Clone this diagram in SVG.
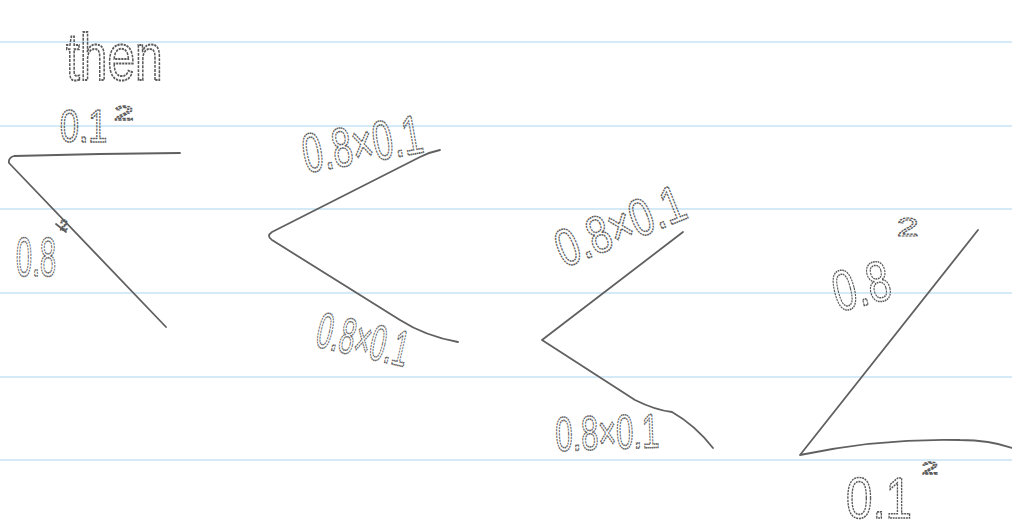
<svg xmlns="http://www.w3.org/2000/svg" width="1012" height="531" viewBox="0 0 1012 531">
<style>
.rule{stroke:#c6e4f4;stroke-width:1.5}
.pen{fill:none;stroke:#606060;stroke-width:1.8;stroke-linecap:round;stroke-linejoin:round}
.hw{font-family:"Liberation Sans",Arial,sans-serif;fill:none;stroke:#5a5a5a;stroke-width:1.4;stroke-dasharray:2 0.8}
</style>
<rect width="1012" height="531" fill="#ffffff"/>
<g id="paper-lines">
<line class="rule" x1="0" y1="42" x2="1012" y2="42"/>
<line class="rule" x1="0" y1="126" x2="1012" y2="126"/>
<line class="rule" x1="0" y1="209" x2="1012" y2="209"/>
<line class="rule" x1="0" y1="293" x2="1012" y2="293"/>
<line class="rule" x1="0" y1="377" x2="1012" y2="377"/>
<line class="rule" x1="0" y1="460" x2="1012" y2="460"/>
</g>
<g id="connectors">
<path class="pen" d="M180,153 L100,154 L14,156 Q8,158 9,163 L166,327"/>
<path class="pen" d="M56,224 L66,232"/>
<path class="pen" d="M440,150 Q430,152 420,157 L272,232 Q266,236 272,240 L400,320 Q425,336 458,342"/>
<path class="pen" d="M683,232 L542,340 L635,400 Q655,410 672,412 Q695,425 713,448"/>
<path class="pen" d="M978,230 L800,455 Q880,438 960,440 Q990,440 1012,448"/>
</g>
<g id="label-then"><text class="hw" x="66" y="80" font-size="46" transform="translate(66,80) scale(1.08,1.45) translate(-66,-80)">then</text></g>
<g id="fig1-top"><text class="hw" x="60" y="142" font-size="40" transform="translate(60,142) scale(0.85,1.15) translate(-60,-142)">0.1</text><text class="hw" x="114" y="120" font-size="22" transform="translate(114,120) scale(1.6,0.9) translate(-114,-120)">2</text></g>
<g id="fig1-diag"><text class="hw" x="16" y="276" font-size="48" transform="translate(16,276) scale(0.6,1.15) translate(-16,-276)">0.8</text><text class="hw" x="60" y="230" font-size="14">2</text></g>
<g id="fig2-top"><text class="hw" x="306" y="173" font-size="48" transform="rotate(-10,306,173) translate(306,173) scale(0.75,1.15) translate(-306,-173)">0.8×0.1</text></g>
<g id="fig2-bot"><text class="hw" x="314" y="346" font-size="46" transform="rotate(13,314,346) translate(314,346) scale(0.6,1.1) translate(-314,-346)">0.8×0.1</text></g>
<g id="fig3-top"><text class="hw" x="564" y="268" font-size="48" transform="rotate(-22,564,268) translate(564,268) scale(0.84,1.1) translate(-564,-268)">0.8×0.1</text></g>
<g id="fig3-bot"><text class="hw" x="556" y="451" font-size="44" transform="rotate(-2,556,451) translate(556,451) scale(0.7,1.1) translate(-556,-451)">0.8×0.1</text></g>
<g id="fig4-top"><text class="hw" x="838" y="312" font-size="52" transform="rotate(-14,838,312) translate(838,312) scale(0.8,1.1) translate(-838,-312)">0.8</text><text class="hw" x="897" y="236" font-size="30" transform="translate(897,236) scale(1.3,0.85) translate(-897,-236)">2</text></g>
<g id="fig4-bot"><text class="hw" x="846" y="518" font-size="50" transform="translate(846,518) scale(0.95,1.15) translate(-846,-518)">0.1</text><text class="hw" x="922" y="474" font-size="18" transform="translate(922,474) scale(1.6,0.9) translate(-922,-474)">2</text></g>
</svg>
